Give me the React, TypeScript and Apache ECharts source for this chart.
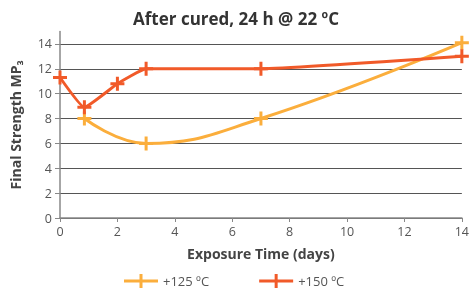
import React, { useEffect, useRef } from "react";
import * as echarts from "echarts";

const title = "After cured, 24 h @ 22 ºC";
const xName = "Exposure Time (days)";
const yName = "Final Strength MP₃";
const seriesNames = ["+125 ºC", "+150 ºC"];
const s125: [number, number][] = [
  [0.85, 8],
  [3, 6],
  [7, 8],
  [14, 14.1],
];
const s150: [number, number][] = [
  [0, 11.3],
  [0.85, 8.9],
  [2, 10.8],
  [3, 12],
  [7, 12],
  [14, 13],
];
const colors = ["#FBAE3C", "#F15A29"];

const plus = "path://M5.5,0h3v14h-3z M0,5.5h14v3H0z";
const legendIcon = "path://M0,5.5h34v3H0z M15.5,0h3v14h-3z";

export default function App() {
  const ref = useRef<HTMLDivElement>(null);
  useEffect(() => {
    const chart = echarts.init(ref.current!, undefined, { renderer: "svg" });
    const font = "Open Sans";
    chart.setOption({
      animation: false,
      textStyle: { fontFamily: font },
      title: {
        text: title,
        left: "center",
        top: 5,
        textStyle: { fontFamily: font, fontSize: 17, fontWeight: "bold", color: "#333" },
      },
      legend: {
        bottom: 4,
        left: 119,
        itemWidth: 34,
        itemHeight: 14,
        itemGap: 50,
        icon: legendIcon,
        textStyle: { fontFamily: font, fontSize: 13, color: "#555" },
        data: seriesNames,
      },
      grid: { left: 56, right: 7, top: 31.5, bottom: 79, containLabel: false },
      xAxis: {
        type: "value",
        min: 0,
        max: 14,
        interval: 2,
        name: xName,
        nameLocation: "middle",
        nameGap: 28,
        nameTextStyle: { fontFamily: font, fontSize: 14, fontWeight: "bold", color: "#444" },
        axisLine: { lineStyle: { color: "#888", width: 1.5 } },
        axisTick: { show: true, length: 4, lineStyle: { color: "#888" } },
        axisLabel: { color: "#555", fontSize: 12.5, margin: 7 },
        splitLine: { show: false },
      },
      yAxis: {
        type: "value",
        min: 0,
        max: 15,
        interval: 2,
        name: yName,
        nameLocation: "middle",
        nameGap: 38,
        nameTextStyle: { fontFamily: font, fontSize: 14, fontWeight: "bold", color: "#444" },
        axisLine: { show: true, lineStyle: { color: "#888", width: 1.5 } },
        axisTick: { show: true, length: 5, lineStyle: { color: "#888" } },
        axisLabel: {
          color: "#555",
          fontSize: 12.5,
          margin: 8,
          showMaxLabel: false,
        },
        splitLine: {
          show: true,
          lineStyle: {
            color: ["#555", "#555", "#555", "#555", "#555", "#555", "#555", "#555", "rgba(0,0,0,0)"],
            width: 1,
          },
        },
      },
      series: [
        {
          name: seriesNames[0],
          type: "line",
          data: s125,
          smooth: 0.45,
          symbol: plus,
          symbolSize: 14,
          lineStyle: { color: colors[0], width: 3 },
          itemStyle: { color: colors[0] },
          z: 2,
        },
        {
          name: seriesNames[1],
          type: "line",
          data: s150,
          smooth: 0.12,
          symbol: plus,
          symbolSize: 14,
          lineStyle: { color: colors[1], width: 3 },
          itemStyle: { color: colors[1] },
          z: 3,
        },
      ],
    });
    return () => chart.dispose();
  }, []);
  return (
    <div
      ref={ref}
      style={{ width: 472, height: 297, position: "fixed", left: 0, top: 0 }}
    />
  );
}
